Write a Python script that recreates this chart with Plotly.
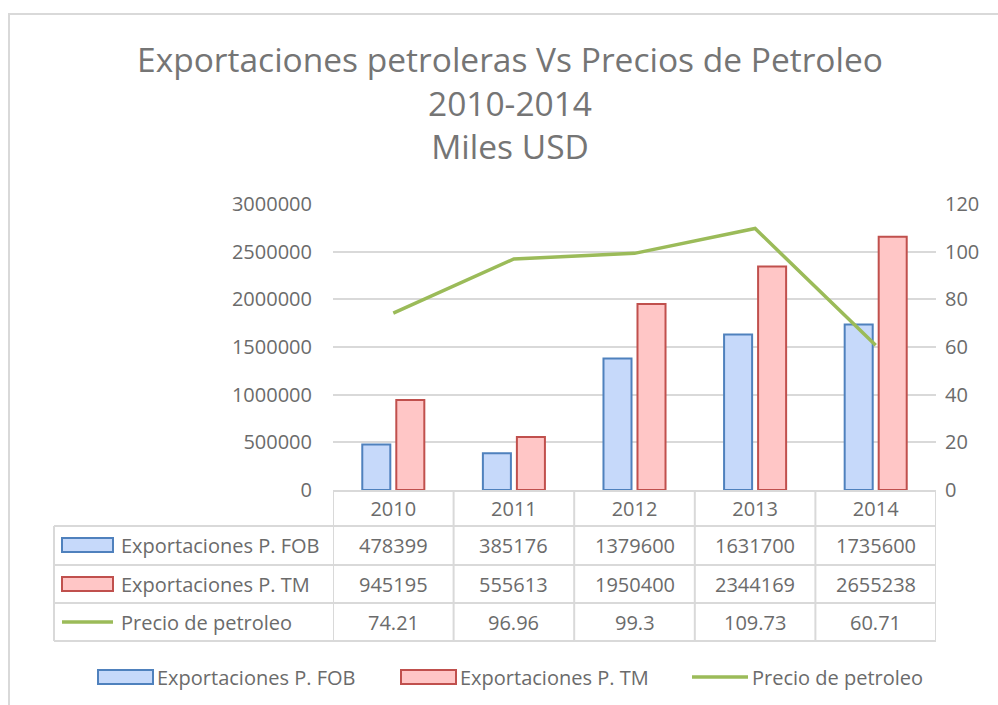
import plotly.graph_objects as go

years = ["2010", "2011", "2012", "2013", "2014"]
fob = [478399, 385176, 1379600, 1631700, 1735600]
tm = [945195, 555613, 1950400, 2344169, 2655238]
precio = [74.21, 96.96, 99.3, 109.73, 60.71]
series_names = ["Exportaciones P. FOB", "Exportaciones P. TM", "Precio de petroleo"]
title_lines = ["Exportaciones petroleras Vs Precios de Petroleo", "2010-2014", "Miles USD"]

W, H = 998, 705
PL, PR, PT, PB = 333, 936, 204, 490
FONT = "Open Sans"
TXT = "#6b6b6b"
GRID = "#d9d9d9"
BLUE_LINE, BLUE_FILL = "#4f81bd", "#c6d9fa"
RED_LINE, RED_FILL = "#c0504d", "#ffc6c6"
GREEN = "#9bbb59"


def px_x(px):
    return (px - PL) / (PR - PL)


def px_y(py):
    return (PB - py) / (PB - PT)


fig = go.Figure()
fig.add_trace(go.Bar(x=years, y=fob, name=series_names[0],
                     marker=dict(color=BLUE_FILL, line=dict(color=BLUE_LINE, width=2)),
                     showlegend=False))
fig.add_trace(go.Bar(x=years, y=tm, name=series_names[1],
                     marker=dict(color=RED_FILL, line=dict(color=RED_LINE, width=2)),
                     showlegend=False))
fig.add_trace(go.Scatter(x=years, y=precio, name=series_names[2], yaxis="y2", mode="lines",
                         line=dict(color=GREEN, width=3.5), showlegend=False))

shapes = []
annotations = []

# outer chart border
shapes.append(dict(type="rect", xref="paper", yref="paper",
                   x0=px_x(9), x1=px_x(1010), y0=px_y(14), y1=px_y(720),
                   line=dict(color=GRID, width=2), layer="below"))

# data table grid
row_lines = [526, 565, 603, 641]
for ry in row_lines:
    shapes.append(dict(type="line", xref="paper", yref="paper",
                       x0=px_x(54), x1=1, y0=px_y(ry), y1=px_y(ry),
                       line=dict(color=GRID, width=2)))
shapes.append(dict(type="line", xref="paper", yref="paper",
                   x0=px_x(54), x1=px_x(54), y0=px_y(526), y1=px_y(641),
                   line=dict(color=GRID, width=2)))
for i in range(len(years) + 1):
    shapes.append(dict(type="line", xref="x", yref="paper",
                       x0=i - 0.5, x1=i - 0.5, y0=0, y1=px_y(641),
                       line=dict(color=GRID, width=2)))

row_centers = [545, 584, 622]
rows = [fob, tm, precio]
for r, (vals, yc) in enumerate(zip(rows, row_centers)):
    for i, v in enumerate(vals):
        annotations.append(dict(x=i, y=px_y(yc), xref="x", yref="paper", text=str(v),
                                xanchor="center", yanchor="middle",
                                showarrow=False, font=dict(family=FONT, size=20, color=TXT)))
    annotations.append(dict(x=px_x(119), y=px_y(yc), xref="paper", yref="paper",
                            text=series_names[r], xanchor="left", yanchor="middle",
                            showarrow=False, font=dict(family=FONT, size=20, color=TXT)))

# table legend keys
shapes.append(dict(type="rect", xref="paper", yref="paper", x0=px_x(62), x1=px_x(113),
                   y0=px_y(538), y1=px_y(552), fillcolor=BLUE_FILL,
                   line=dict(color=BLUE_LINE, width=2)))
shapes.append(dict(type="rect", xref="paper", yref="paper", x0=px_x(62), x1=px_x(113),
                   y0=px_y(577), y1=px_y(591), fillcolor=RED_FILL,
                   line=dict(color=RED_LINE, width=2)))
shapes.append(dict(type="line", xref="paper", yref="paper", x0=px_x(62), x1=px_x(113),
                   y0=px_y(622), y1=px_y(622), line=dict(color=GREEN, width=3.5)))

# bottom legend
LY = 677
shapes.append(dict(type="rect", xref="paper", yref="paper", x0=px_x(98), x1=px_x(153),
                   y0=px_y(670), y1=px_y(684), fillcolor=BLUE_FILL,
                   line=dict(color=BLUE_LINE, width=2)))
shapes.append(dict(type="rect", xref="paper", yref="paper", x0=px_x(401), x1=px_x(456),
                   y0=px_y(670), y1=px_y(684), fillcolor=RED_FILL,
                   line=dict(color=RED_LINE, width=2)))
shapes.append(dict(type="line", xref="paper", yref="paper", x0=px_x(692), x1=px_x(748),
                   y0=px_y(LY), y1=px_y(LY), line=dict(color=GREEN, width=3.5)))
for name, lx in zip(series_names, [155, 458, 750]):
    annotations.append(dict(x=px_x(lx), y=px_y(LY), xref="paper", yref="paper", text=name,
                            xanchor="left", yanchor="middle", showarrow=False,
                            font=dict(family=FONT, size=20, color=TXT)))

fig.update_layout(
    width=W, height=H,
    margin=dict(l=PL, r=W - PR, t=PT, b=H - PB, pad=0),
    paper_bgcolor="white", plot_bgcolor="white",
    title=dict(text="<br>".join(title_lines), x=510 / W, xanchor="center",
               y=1 - 72 / H, yanchor="middle", yref="container",
               font=dict(family=FONT, size=33.5, color="#757575")),
    barmode="group", bargap=0.436, bargroupgap=0.176,
    xaxis=dict(type="category", range=[-0.5, 4.5], showgrid=False, zeroline=False,
               showline=True, linecolor=GRID, linewidth=2, ticks="",
               tickfont=dict(family=FONT, size=20, color=TXT), ticklabelstandoff=0),
    yaxis=dict(range=[0, 3000000], dtick=500000, tickformat="d", showgrid=True,
               gridcolor=GRID, gridwidth=2, zeroline=False, showline=False, ticks="",
               tickfont=dict(family=FONT, size=20, color=TXT), ticklabelstandoff=20),
    yaxis2=dict(range=[0, 120], dtick=20, overlaying="y", side="right", showgrid=False,
                zeroline=False, showline=False, ticks="",
                tickfont=dict(family=FONT, size=20, color=TXT), ticklabelstandoff=8),
    shapes=shapes, annotations=annotations, showlegend=False,
)

fig.write_html("out.html", config={"displayModeBar": False},
               post_script="document.body.style.margin='0';document.body.style.overflow='hidden';")
